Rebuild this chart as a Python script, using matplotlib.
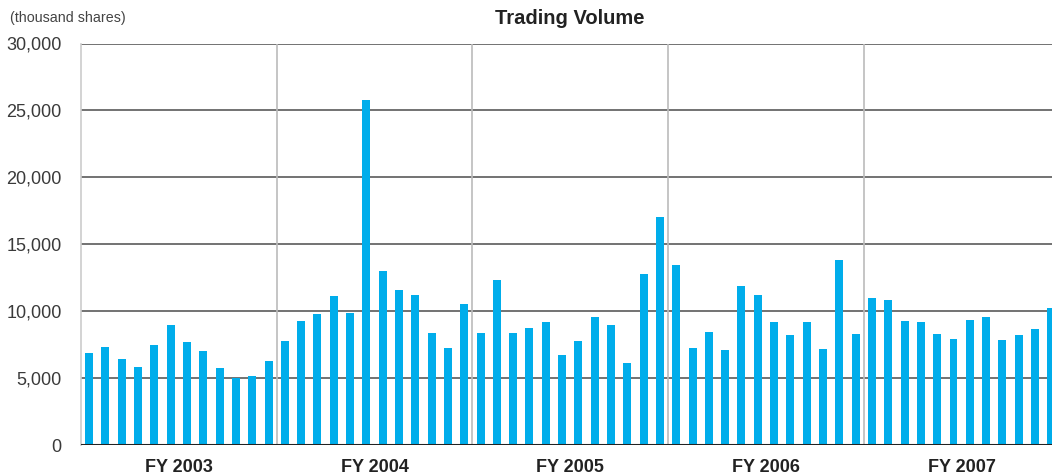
import numpy as np
import matplotlib
matplotlib.use('Agg')
import matplotlib.pyplot as plt

plt.rcParams['font.family'] = ['Liberation Sans', 'DejaVu Sans']

# 月度成交量（千股），FY2003 - FY2007，每年12个月
fy_labels = ['FY 2003', 'FY 2004', 'FY 2005', 'FY 2006', 'FY 2007']
volume_fy2003 = [6890, 7340, 6440, 5850, 7490, 8980, 7710, 7040, 5770, 5020, 5170, 6290]
volume_fy2004 = [7790, 9280, 9800, 11140, 9880, 25770, 13010, 11590, 11220, 8380, 7260, 10550]
volume_fy2005 = [8380, 12340, 8380, 8760, 9200, 6740, 7790, 9580, 8980, 6140, 12790, 17040]
volume_fy2006 = [13460, 7260, 8460, 7110, 11890, 11220, 9200, 8230, 9200, 7190, 13830, 8310]
volume_fy2007 = [11000, 10850, 9280, 9200, 8310, 7940, 9350, 9580, 7860, 8230, 8680, 10250]
y_ticks = [0, 5000, 10000, 15000, 20000, 25000, 30000]

volumes = volume_fy2003 + volume_fy2004 + volume_fy2005 + volume_fy2006 + volume_fy2007
months_per_year = 12
n_years = len(fy_labels)

W, H = 1052, 476
fig = plt.figure(figsize=(W / 100, H / 100), dpi=100)
left, right = 81, 1059.5
bottom, top = 445, 43.5
ax = fig.add_axes([left / W, (H - bottom) / H, (right - left) / W, (bottom - top) / H])

x = np.arange(len(volumes)) + 0.5
ax.bar(x, volumes, width=0.49, color='#00ADEB', zorder=3)

ax.set_xlim(0, months_per_year * n_years)
ax.set_ylim(0, 30000)

# 网格线
for t in y_ticks[1:]:
    ax.axhline(t, color='#5a5a5a', lw=1.2, zorder=1)
for k in range(1, n_years):
    ax.axvline(k * months_per_year, color='#bbbbbb', lw=1.2, zorder=1)
ax.axhline(0, color='#222222', lw=2.2, zorder=4)

for s in ['top', 'right', 'bottom']:
    ax.spines[s].set_visible(False)
ax.spines['left'].set_color('#cccccc')
ax.spines['left'].set_linewidth(1.2)

ax.set_yticks(y_ticks)
ax.set_yticklabels([f'{t:,}' for t in y_ticks], fontsize=13, color='#3a3a3a')
ax.tick_params(axis='y', length=0, pad=14)

ax.set_xticks([(k + 0.5) * months_per_year for k in range(n_years)])
ax.set_xticklabels(fy_labels, fontsize=13, fontweight='bold', color='#222222')
ax.tick_params(axis='x', length=0, pad=10)

fig.text(10 / W, 1 - 18 / H, '(thousand shares)', fontsize=10.3, color='#444444',
         ha='left', va='center')
fig.text(570 / W, 1 - 18 / H, 'Trading Volume', fontsize=14.5, fontweight='bold',
         color='#222222', ha='center', va='center')

fig.savefig('out.png', dpi=100)
